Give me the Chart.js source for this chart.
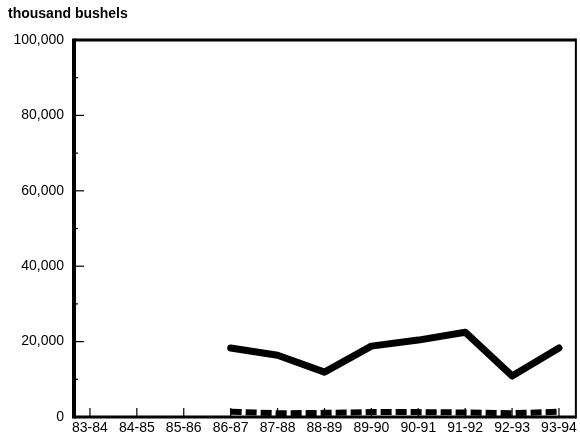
<!DOCTYPE html>
<html>
<head>
<meta charset="utf-8">
<script src="https://cdn.jsdelivr.net/npm/chart.js@4/dist/chart.umd.min.js"></script>
<style>
html,body{margin:0;padding:0;background:#fff;}
#wrap{width:580px;height:442px;position:relative;}
</style>
</head>
<body>
<div id="wrap"><canvas id="c" width="580" height="442"></canvas></div>
<script>
const categories = ["83-84","84-85","85-86","86-87","87-88","88-89","89-90","90-91","91-92","92-93","93-94"];
const seriesMain = [null,null,null,18300,16400,11900,18800,20400,22500,10900,18300];
const seriesMinor = [null,null,null,1400,1000,1100,1300,1300,1200,1000,1400];
const yTicks = [0,20000,40000,60000,80000,100000];
const yTitle = "thousand bushels";

const toPts = arr => arr.map((v,i)=>({x:i,y:v}));

const framePlugin = {
  id:'frame',
  afterDatasetsDraw(chart){
    const {ctx, chartArea:a, scales:{x,y}} = chart;
    ctx.save();
    ctx.strokeStyle='#000';
    // inner ticks x
    ctx.lineWidth=1.2;
    categories.forEach((c,i)=>{
      const px = x.getPixelForValue(i);
      ctx.beginPath(); ctx.moveTo(px,a.bottom); ctx.lineTo(px,a.bottom-9); ctx.stroke();
    });
    // inner ticks y (major + minor)
    for(let v=0; v<=100000; v+=10000){
      const py = y.getPixelForValue(v);
      const len = (v%20000===0)?10:4;
      ctx.beginPath(); ctx.moveTo(a.left,py); ctx.lineTo(a.left+len,py); ctx.stroke();
    }
    // frame
    ctx.lineWidth=4; ctx.beginPath(); ctx.moveTo(a.left,a.top-1.5); ctx.lineTo(a.left,a.bottom+1.5); ctx.stroke();
    ctx.lineWidth=3; ctx.beginPath(); ctx.moveTo(a.left,a.bottom); ctx.lineTo(a.right,a.bottom); ctx.stroke();
    ctx.lineWidth=3; ctx.beginPath(); ctx.moveTo(a.left,a.top); ctx.lineTo(a.right,a.top); ctx.stroke();
    ctx.lineWidth=2; ctx.beginPath(); ctx.moveTo(a.right,a.top-1.5); ctx.lineTo(a.right,a.bottom+1.5); ctx.stroke();
    // title
    ctx.fillStyle='#000';
    ctx.font='bold 14px "Liberation Sans", Arial, sans-serif';
    ctx.textBaseline='middle'; ctx.textAlign='left';
    ctx.fillText(yTitle, 8, 14);
    ctx.restore();
  }
};

new Chart(document.getElementById('c'), {
  type:'line',
  data:{
    datasets:[
      {data:toPts(seriesMain), borderColor:'#000', borderWidth:7, pointRadius:0, tension:0, borderJoinStyle:'round', borderCapStyle:'round', spanGaps:false},
      {data:toPts(seriesMinor), borderColor:'#000', borderWidth:6, pointRadius:0, tension:0, borderDash:[11,4], borderCapStyle:'butt'}
    ]
  },
  options:{
    responsive:false, animation:false, devicePixelRatio:1,
    layout:{padding:{top:40,left:0,right:3,bottom:0}},
    plugins:{legend:{display:false}, tooltip:{enabled:false}},
    scales:{
      x:{type:'linear', min:-0.34, max:10.36,
         afterFit(s){s.height=25;},
         grid:{display:false, drawTicks:false},
         border:{display:false},
         ticks:{stepSize:1, includeBounds:false, autoSkip:false, maxRotation:0, padding:3,
           color:'#000', font:{family:'"Liberation Sans", Arial, sans-serif', size:14},
           callback:(v)=>Number.isInteger(v)&&categories[v]!==undefined?categories[v]:''}},
      y:{min:0, max:100000,
         afterFit(s){s.width=74;},
         afterBuildTicks(s){s.ticks=yTicks.map(v=>({value:v}));},
         grid:{display:false, drawTicks:false},
         border:{display:false},
         ticks:{padding:10, color:'#000', font:{family:'"Liberation Sans", Arial, sans-serif', size:14},
           callback:(v)=>v.toLocaleString('en-US')}}
    }
  },
  plugins:[framePlugin]
});
</script>
</body>
</html>
